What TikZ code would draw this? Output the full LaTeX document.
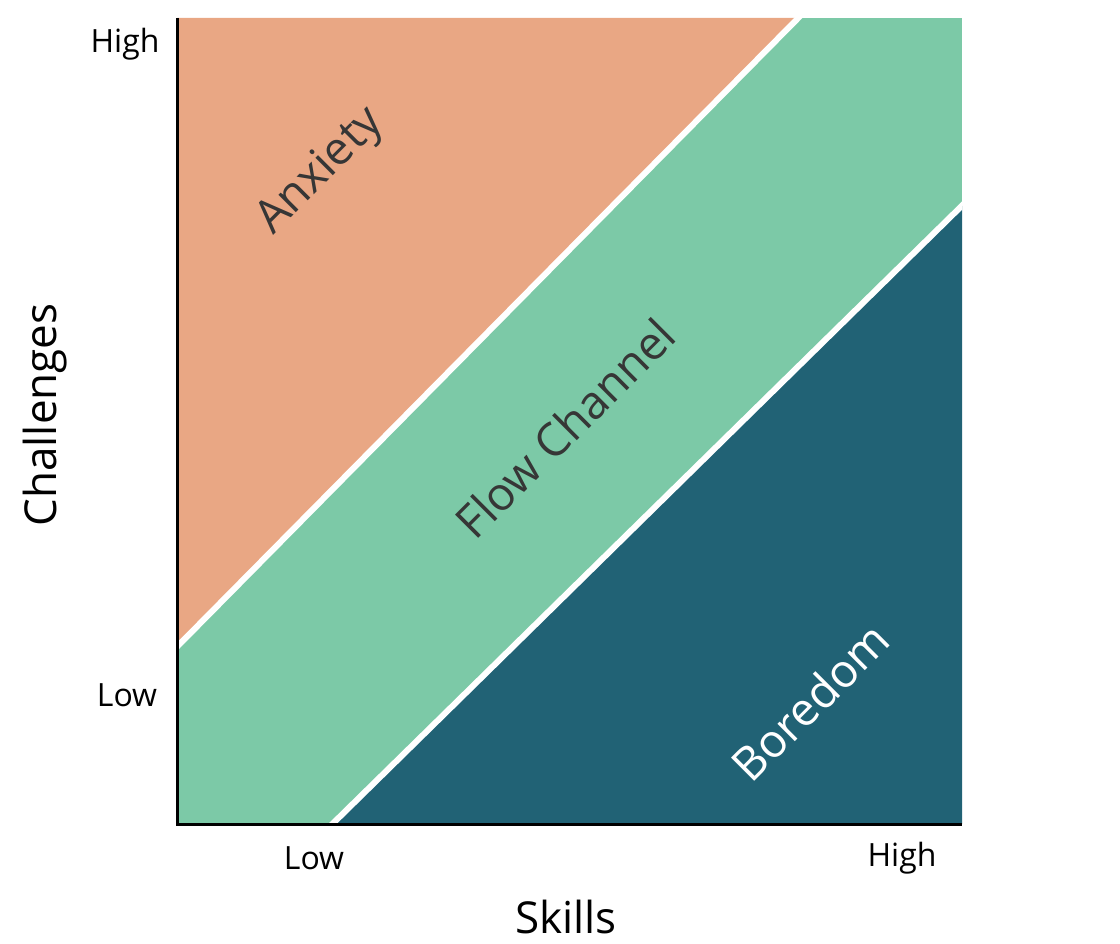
\documentclass[tikz,border=0pt]{standalone}
\usepackage{fontspec}
\setmainfont{Open Sans}
\usepackage{tikz}
\usetikzlibrary{positioning}

\definecolor{anxfill}{HTML}{E9A784}
\definecolor{flowfill}{HTML}{7CC9A7}
\definecolor{borfill}{HTML}{216275}
\definecolor{labeltext}{HTML}{363636}

\begin{document}
\begin{tikzpicture}[x=1pt,y=-1pt]
\tikzstyle{zone}=[font=\fontsize{46}{50}\selectfont,text=labeltext,rotate=45,inner sep=0pt]
\tikzstyle{tick}=[font=\fontsize{32}{36}\selectfont,text=black,inner sep=0pt]
\tikzstyle{axlabel}=[font=\fontsize{44}{48}\selectfont,text=black,inner sep=0pt]
\tikzstyle{divider}=[white,line width=6pt]

\useasboundingbox (0,0) rectangle (1120,944);

% plot area
\coordinate (tl) at (177,18);
\coordinate (br) at (962,824);
\coordinate (ua) at (177,647);
\coordinate (ub) at (798,18);
\coordinate (la) at (332,824);
\coordinate (lb) at (962,206);

\fill[flowfill] (tl) rectangle (br);
\fill[anxfill] (tl) -- (ub) -- (ua) -- cycle;
\fill[borfill] (la) -- (lb) -- (br) -- cycle;

\begin{scope}
  \clip (tl) rectangle (br);
  \draw[divider] ([shift={(-20,20)}]ua) -- ([shift={(20,-20)}]ub);
  \draw[divider] ([shift={(-20,20)}]la) -- ([shift={(20,-20)}]lb);
\end{scope}

% axes
\draw[line width=3pt] (tl) -- (177,824) -- (br |- la);

% zone labels
\node[zone] (anx) at (321,172) {Anxiety};
\node[zone] (flow) at (565,428) {Flow Channel};
\node[zone,text=white] (bor) at (810,702) {Boredom};

% ticks
\node[tick] (yhigh) at (125,44) {High};
\node[tick] (ylow) at (127,695) {Low};
\node[tick] (xlow) at (314,858) {Low};
\node[tick] (xhigh) at (902,858) {High};

% axis titles
\node[axlabel] (skills) at (566,917) {Skills};
\node[axlabel,rotate=90] (chall) at (45,415) {Challenges};
\end{tikzpicture}
\end{document}
